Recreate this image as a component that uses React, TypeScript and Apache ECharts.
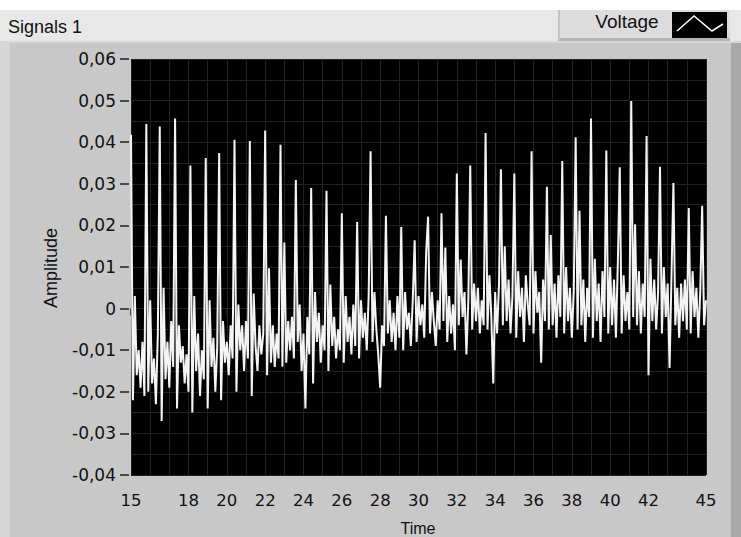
import React, { useEffect, useRef } from "react";
import * as echarts from "echarts";

// Waveform: t0 = 15 s, dt = 0.1 s
const T0 = 15;
const DT = 0.1;
const voltage: number[] = [
  // 15.0 - 15.9
  0.0418, -0.022, 0.003, -0.016, -0.010, -0.019, -0.008, -0.021, 0.0444, -0.020,
  // 16
  0.002, -0.018, -0.012, -0.023, -0.006, 0.0438, -0.027, 0.005, -0.017, -0.008,
  // 17
  -0.019, -0.003, -0.014, 0.0457, -0.024, -0.004, -0.013, -0.009, -0.018, -0.011,
  // 18
  -0.020, 0.0344, -0.025, 0.003, -0.015, -0.006, -0.021, -0.010, -0.017, 0.0362,
  // 19
  -0.024, 0.002, -0.014, -0.007, -0.020, -0.009, 0.0374, -0.022, -0.003, -0.013,
  // 20
  -0.008, -0.016, -0.004, -0.012, 0.0406, -0.020, 0.001, -0.010, -0.004, -0.015,
  // 21
  -0.003, -0.012, 0.0403, -0.021, 0.0036, -0.009, -0.015, -0.004, -0.011, -0.006,
  // 22
  0.0428, -0.016, 0.0097, -0.013, -0.004, -0.014, -0.006, -0.012, 0.0394, -0.014,
  // 23
  0.0159, -0.013, -0.003, -0.010, -0.002, -0.012, 0.0309, -0.008, 0.001, -0.015,
  // 24
  -0.006, -0.024, -0.002, -0.011, 0.0290, -0.018, 0.004, -0.008, -0.001, -0.013,
  // 25
  -0.004, -0.010, 0.0283, -0.015, 0.0058, -0.009, -0.002, -0.012, -0.005, -0.010,
  // 26
  0.0229, -0.013, 0.003, -0.008, -0.002, -0.011, 0.001, -0.009, 0.0208, -0.012,
  // 27
  0.002, -0.007, -0.001, -0.010, 0.003, 0.0378, -0.008, 0.004, -0.005, -0.011,
  // 28
  -0.019, -0.004, -0.009, 0.0223, -0.006, 0.002, -0.008, -0.001, -0.010, 0.003,
  // 29
  -0.007, 0.0196, -0.010, 0.004, -0.005, -0.001, -0.009, 0.002, 0.0164, -0.008,
  // 30
  0.003, -0.004, 0.001, -0.007, 0.0136, 0.0221, -0.006, 0.004, -0.003, -0.009,
  // 31
  0.002, -0.005, 0.0229, -0.003, 0.0147, -0.008, 0.003, -0.006, 0.001, -0.010,
  // 32
  0.0325, -0.004, 0.0118, -0.002, 0.004, -0.011, 0.002, 0.0344, -0.005, 0.006,
  // 33
  -0.003, 0.005, -0.006, 0.002, -0.004, 0.0422, -0.005, 0.008, -0.002, -0.018,
  // 34
  0.004, -0.006, 0.006, 0.0335, -0.004, 0.015, -0.003, 0.007, -0.006, 0.003,
  // 35
  0.0325, -0.007, 0.009, -0.002, 0.005, -0.008, 0.008, 0.001, -0.004, 0.0378,
  // 36
  -0.006, 0.009, -0.001, 0.004, -0.013, 0.007, -0.003, 0.0293, -0.005, 0.0177,
  // 37
  -0.004, 0.006, -0.007, 0.008, -0.002, 0.0355, -0.006, 0.010, -0.003, 0.005,
  // 38
  -0.007, 0.004, 0.0412, -0.005, 0.0235, -0.004, 0.007, -0.008, 0.005, -0.002,
  // 39
  0.0457, -0.007, 0.012, -0.003, 0.006, -0.008, 0.009, -0.002, 0.0380, -0.006,
  // 40
  0.010, -0.004, 0.007, -0.007, 0.011, 0.0340, -0.006, 0.008, -0.003, 0.004,
  // 41
  -0.005, 0.0499, -0.002, 0.0203, -0.004, 0.009, -0.006, 0.006, -0.002, 0.0415,
  // 42
  -0.016, 0.012, -0.003, 0.007, -0.005, 0.004, 0.0341, -0.006, 0.010, -0.002,
  // 43
  0.006, -0.0143, 0.008, 0.0302, -0.004, 0.005, -0.007, 0.006, -0.003, 0.007,
  // 44
  -0.005, 0.0242, -0.006, 0.009, -0.002, 0.005, -0.007, 0.004, 0.0247, -0.004,
  // 45.0
  0.002,
];

const xTickValues = [15, 16, 18, 20, 22, 24, 26, 28, 30, 32, 34, 36, 38, 40, 42, 44, 45];
const xLabelValues = [15, 18, 20, 22, 24, 26, 28, 30, 32, 34, 36, 38, 40, 42, 45];
const yMin = -0.04;
const yMax = 0.06;
const yStep = 0.01;

export default function App() {
  const ref = useRef<HTMLDivElement>(null);
  useEffect(() => {
    if (!ref.current) return;
    const chart = echarts.init(ref.current, null, { renderer: "svg" });
    const data = voltage.map((v, i) => [Math.round((T0 + i * DT) * 10) / 10, v]);
    const tickFont = "DejaVu Sans, Verdana, sans-serif";
    const labelFont = "Liberation Sans, Arial, sans-serif";
    chart.setOption({
      animation: false,
      backgroundColor: "#c8c8c8",
      grid: {
        left: 131,
        top: 59,
        width: 575,
        height: 416,
        show: true,
        backgroundColor: "#000000",
        borderWidth: 0,
      },
      xAxis: [
        {
          type: "value",
          min: 15,
          max: 45,
          position: "bottom",
          offset: 4,
          axisLine: { show: false },
          axisTick: {
            show: true,
            length: 7,
            lineStyle: { color: "#222", width: 1.5 },
            customValues: xTickValues,
          },
          axisLabel: {
            customValues: xLabelValues,
            color: "#111",
            fontSize: 16.5,
            fontFamily: tickFont,
            margin: 13,
          },
          splitLine: { show: false },
        },
        {
          type: "value",
          min: 15,
          max: 45,
          interval: 1,
          position: "top",
          axisLine: { show: false },
          axisTick: { show: false },
          axisLabel: { show: false },
          splitLine: { show: true, lineStyle: { color: "#212121", width: 1 } },
        },
      ],
      yAxis: {
        type: "value",
        min: yMin,
        max: yMax,
        interval: yStep,
        offset: 2,
        axisLine: { show: false },
        axisTick: { show: true, length: 9, lineStyle: { color: "#222", width: 1.5 } },
        axisLabel: {
          color: "#111",
          fontSize: 17,
          fontFamily: tickFont,
          margin: 13,
          formatter: (v: number) =>
            Math.abs(v) < 1e-9 ? "0" : v.toFixed(2).replace(".", ","),
        },
        splitLine: { show: true, lineStyle: { color: "#212121", width: 1 } },
        minorTick: { show: false, splitNumber: 2 },
        minorSplitLine: { show: true, lineStyle: { color: "#212121", width: 1 } },
      },
      series: [
        {
          type: "line",
          name: "Voltage",
          xAxisIndex: 0,
          data,
          showSymbol: false,
          symbol: "none",
          clip: true,
          lineStyle: { color: "#f4f4f4", width: 2 },
          itemStyle: { color: "#ffffff" },
        },
      ],
      graphic: [
        { type: "rect", shape: { x: 0, y: 0, width: 741, height: 10 }, style: { fill: "#ffffff" }, silent: true },
        { type: "rect", shape: { x: 0, y: 10, width: 741, height: 32 }, style: { fill: "#e8e8e8" }, silent: true },
        { type: "rect", shape: { x: 0, y: 41, width: 741, height: 2 }, style: { fill: "#d6d6d6" }, silent: true },
        { type: "rect", shape: { x: 0, y: 43, width: 10, height: 494 }, style: { fill: "#d6d6d6" }, silent: true },
        { type: "rect", shape: { x: 731, y: 43, width: 10, height: 494 }, style: { fill: "#a9a9a9" }, silent: true },
        { type: "rect", shape: { x: 558, y: 10, width: 172, height: 30 }, style: { fill: "#dcdcdc" }, silent: true },
        { type: "rect", shape: { x: 558, y: 38, width: 172, height: 3 }, style: { fill: "#b4b4b4" }, silent: true },
        { type: "rect", shape: { x: 558, y: 10, width: 2, height: 30 }, style: { fill: "#c4c4c4" }, silent: true },
        {
          type: "text",
          x: 8,
          y: 27,
          style: { text: "Signals 1", fill: "#111", font: `18px ${labelFont}`, textVerticalAlign: "middle", verticalAlign: "middle" },
          silent: true,
        },
        {
          type: "text",
          x: 627,
          y: 21,
          style: { text: "Voltage", fill: "#111", font: `19px ${labelFont}`, textAlign: "center", align: "center", textVerticalAlign: "middle", verticalAlign: "middle" },
          silent: true,
        },
        { type: "rect", shape: { x: 672, y: 12, width: 55, height: 26 }, style: { fill: "#000" }, silent: true },
        {
          type: "polyline",
          shape: { points: [[677, 31], [694, 16], [712, 31], [723, 24]] },
          style: { stroke: "#fff", lineWidth: 1.5, fill: null },
          silent: true,
        },
        {
          type: "text",
          x: 51,
          y: 268,
          rotation: Math.PI / 2,
          style: { text: "Amplitude", fill: "#111", font: `18px ${labelFont}`, textAlign: "center", align: "center", textVerticalAlign: "middle", verticalAlign: "middle" },
          silent: true,
        },
        {
          type: "text",
          x: 418,
          y: 528,
          style: { text: "Time", fill: "#111", font: `16px ${labelFont}`, textAlign: "center", align: "center", textVerticalAlign: "middle", verticalAlign: "middle" },
          silent: true,
        },
      ],
    });
    return () => chart.dispose();
  }, []);
  return (
    <div
      ref={ref}
      style={{ position: "fixed", left: 0, top: 0, width: 741, height: 537 }}
    />
  );
}
